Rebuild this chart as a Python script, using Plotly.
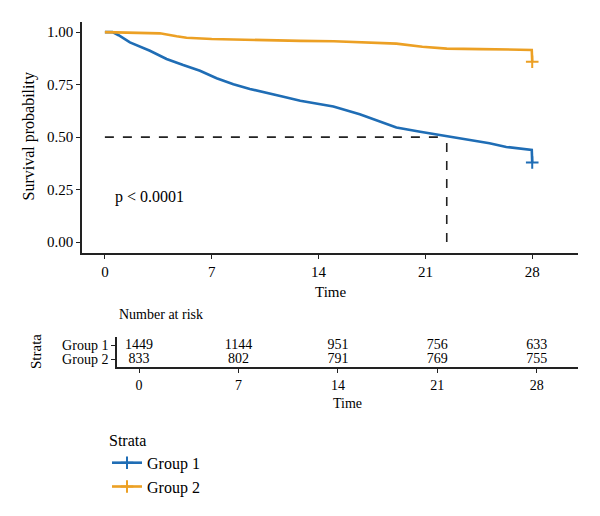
import plotly.graph_objects as go

W, H = 600, 516

# ---- data ----
time_g1 = [0, 0.5, 0.9, 1.64, 2.95, 4.04, 5.13, 6.23, 7.32, 8.42, 9.5, 10.6, 11.7, 12.8,
           14.97, 16.7, 18.0, 19.1, 20.66, 22.4, 23.7, 25.2, 26.3, 27.97, 28.0]
surv_g1 = [1.0, 1.0, 0.985, 0.951, 0.911, 0.872, 0.843, 0.816, 0.780, 0.752, 0.729, 0.709, 0.692, 0.673,
           0.646, 0.609, 0.573, 0.546, 0.525, 0.503, 0.490, 0.471, 0.453, 0.439, 0.379]
time_g2 = [0, 2.95, 3.6, 4.7, 5.35, 7.0, 8.6, 10.4, 12.8, 15.0, 17.3, 19.1, 20.8, 22.4, 24.6, 26.3, 27.97, 28.0]
surv_g2 = [1.0, 0.996, 0.994, 0.980, 0.973, 0.967, 0.964, 0.962, 0.958, 0.956, 0.951, 0.945, 0.930, 0.921, 0.919, 0.917, 0.915, 0.859]

groups = ["Group 1", "Group 2"]
colors = ["#1F6DB5", "#ECA024"]
median_time = 22.4
median_surv = 0.5
pval_text = "p < 0.0001"

risk_times = [0, 7, 14, 21, 28]
risk_g1 = [1449, 1144, 951, 756, 633]
risk_g2 = [833, 802, 791, 769, 755]
x_ticks = [0, 7, 14, 21, 28]
y_ticks = [0.0, 0.25, 0.5, 0.75, 1.0]
y_ticklabels = ["0.00", "0.25", "0.50", "0.75", "1.00"]

FONT = "Liberation Serif"


def px_x(px):
    return px / W


def px_y(py):
    return 1 - py / H


fig = go.Figure()

series = [(time_g1, surv_g1), (time_g2, surv_g2)]
for (t, s), name, col in zip(series, groups, colors):
    fig.add_trace(go.Scatter(x=t, y=s, mode="lines", line=dict(color=col, width=2.6),
                             showlegend=False, legendgroup=name, hoverinfo="skip",
                             xaxis="x", yaxis="y"))
for (t, s), name, col in zip(series, groups, colors):
    fig.add_trace(go.Scatter(x=[t[-1]], y=[s[-1]], mode="lines+markers", name=name,
                             line=dict(color=col, width=2.6),
                             marker=dict(symbol="cross-thin", size=9, line=dict(color=col, width=2)),
                             legendgroup=name, xaxis="x", yaxis="y", cliponaxis=False))

# risk table
for vals, yv in [(risk_g1, 2), (risk_g2, 1)]:
    fig.add_trace(go.Scatter(x=risk_times, y=[yv] * len(risk_times), mode="text",
                             text=[str(v) for v in vals], textposition="middle center",
                             textfont=dict(family=FONT, size=14, color="black"),
                             showlegend=False, hoverinfo="skip", xaxis="x2", yaxis="y2",
                             cliponaxis=False))


def axis_style(fs):
    return dict(showline=True, linecolor="#222222", linewidth=1.6, ticks="outside",
                ticklen=4, tickcolor="#222222", tickwidth=1.3, showgrid=False, zeroline=False,
                tickfont=dict(family=FONT, size=fs, color="black"))


def note(text, x, y, size, angle=0, xanchor="center"):
    return dict(text=text, x=px_x(x), y=px_y(y), xref="paper", yref="paper",
                xanchor=xanchor, yanchor="middle", textangle=angle, showarrow=False,
                font=dict(family=FONT, size=size, color="black"))


fig.update_layout(
    width=W, height=H,
    margin=dict(l=0, r=0, t=0, b=0),
    paper_bgcolor="white", plot_bgcolor="white",
    font=dict(family=FONT, size=15, color="black"),
    xaxis=dict(domain=[px_x(82), px_x(578)], range=[-1.5, 31], tickvals=x_ticks,
               anchor="y", **axis_style(15)),
    yaxis=dict(domain=[px_y(253), px_y(22)], range=[-0.052, 1.048], tickvals=y_ticks,
               ticktext=y_ticklabels, anchor="x", **axis_style(15)),
    xaxis2=dict(domain=[px_x(117), px_x(578)], range=[-1.55, 30.9], tickvals=x_ticks,
                anchor="y2", ticklabelstandoff=0, **axis_style(14)),
    yaxis2=dict(domain=[px_y(367.3), px_y(337)], range=[0.44, 2.56], tickvals=[2, 1],
                ticktext=groups, anchor="x2", **axis_style(14)),
    showlegend=True,
    legend=dict(x=px_x(107), y=px_y(425), xanchor="left", yanchor="top",
                title=dict(text="Strata", font=dict(family=FONT, size=16)),
                font=dict(family=FONT, size=16), tracegroupgap=0, itemwidth=30,
                bgcolor="rgba(0,0,0,0)"),
    shapes=[
        dict(type="line", xref="x", yref="y", x0=0, x1=median_time, y0=median_surv, y1=median_surv,
             line=dict(color="#222222", width=1.6, dash="dash")),
        dict(type="line", xref="x", yref="y", x0=median_time, x1=median_time, y0=0, y1=median_surv,
             line=dict(color="#222222", width=1.6, dash="dash")),
    ],
    annotations=[
        dict(text=pval_text, x=0.5, y=0.213, xref="x", yref="y", xanchor="left", yanchor="middle",
             showarrow=False, font=dict(family=FONT, size=16)),
        note("Survival probability", 28.5, 137, 16, angle=-90),
        note("Time", 330, 291.5, 15),
        note("Number at risk", 117, 314, 14, xanchor="left"),
        note("Strata", 36, 352, 15, angle=-90),
        note("Time", 347.5, 403, 14),
    ],
)

fig.write_html("out.html")
